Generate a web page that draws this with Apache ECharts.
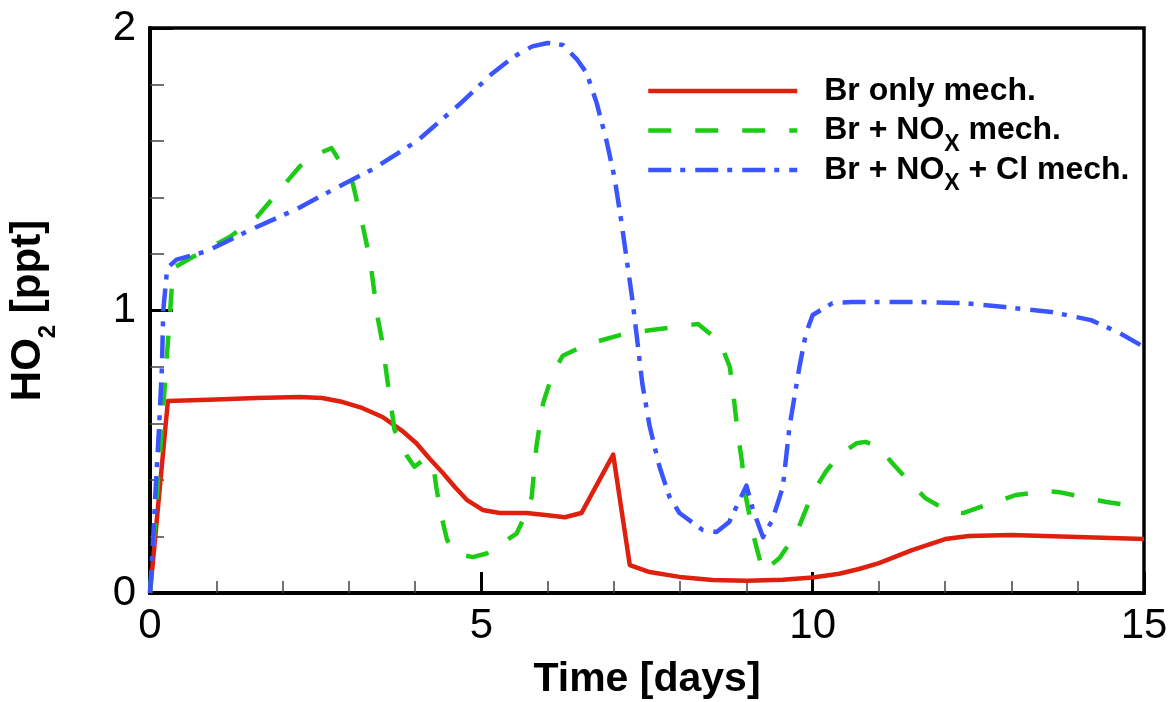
<!DOCTYPE html>
<html>
<head>
<meta charset="utf-8">
<script src="https://cdn.jsdelivr.net/npm/echarts@6/dist/echarts.min.js"></script>
<style>
  html, body { margin: 0; padding: 0; background: #ffffff; }
  #chart { width: 1171px; height: 702px; }
</style>
</head>
<body>
<div id="chart"></div>
<script>
// HO2 mixing ratio [ppt] versus time [days] for three mechanism variants
const FONT = "'Liberation Sans', Arial, Helvetica, sans-serif";

const seriesNames = ['Br only mech.', 'Br + NOx mech.', 'Br + NOx + Cl mech.'];

// [time (days), HO2 (ppt)]
const brOnly = [
  [0, 0], [0.27, 0.68], [1.0, 0.685], [1.6, 0.69], [2.26, 0.694], [2.6, 0.69],
  [2.91, 0.676], [3.2, 0.655], [3.51, 0.623], [3.8, 0.575], [4.02, 0.53],
  [4.22, 0.475], [4.42, 0.425], [4.6, 0.375], [4.78, 0.33], [5.02, 0.294],
  [5.28, 0.283], [5.68, 0.283], [6.0, 0.275], [6.26, 0.268], [6.51, 0.283],
  [6.99, 0.49], [7.24, 0.099], [7.54, 0.074], [7.99, 0.057], [8.49, 0.046],
  [9.0, 0.043], [9.55, 0.047], [10.0, 0.055], [10.4, 0.068], [10.7, 0.085],
  [11.0, 0.106], [11.5, 0.152], [12.0, 0.191], [12.36, 0.202], [13.0, 0.205],
  [14.0, 0.198], [15.0, 0.191]
];

const brNox = [
  [0, 0], [0.35, 1.15], [0.65, 1.19], [1.2, 1.26], [1.61, 1.33], [2.06, 1.455],
  [2.26, 1.51], [2.59, 1.56], [2.74, 1.575], [2.83, 1.54], [3.06, 1.45],
  [3.21, 1.30], [3.32, 1.18], [3.44, 0.97], [3.5, 0.895], [3.59, 0.74],
  [3.69, 0.577], [3.87, 0.488], [3.99, 0.447], [4.12, 0.47], [4.27, 0.46],
  [4.32, 0.375], [4.4, 0.27], [4.48, 0.19], [4.6, 0.14], [4.87, 0.127],
  [5.08, 0.14], [5.53, 0.21], [5.68, 0.283], [5.76, 0.34], [5.83, 0.517],
  [5.93, 0.67], [6.08, 0.78], [6.23, 0.84], [6.59, 0.88], [7.09, 0.913],
  [7.54, 0.93], [8.19, 0.95], [8.27, 0.952], [8.6, 0.89], [8.75, 0.80],
  [8.8, 0.71], [8.87, 0.566], [8.93, 0.47], [9.0, 0.33], [9.1, 0.21],
  [9.15, 0.164], [9.25, 0.075], [9.5, 0.124], [9.75, 0.21], [10.0, 0.354],
  [10.2, 0.43], [10.4, 0.488], [10.66, 0.53], [10.8, 0.535], [11.0, 0.517],
  [11.2, 0.46], [11.46, 0.393], [11.7, 0.336], [12.06, 0.287], [12.27, 0.283],
  [12.7, 0.318], [13.07, 0.347], [13.52, 0.361], [13.72, 0.357], [14.43, 0.322],
  [15.0, 0.304]
];

const brNoxCl = [
  [0, 0], [0.05, 0.2], [0.09, 0.39], [0.14, 0.6], [0.18, 0.8], [0.2, 1.0],
  [0.26, 1.15], [0.4, 1.18], [0.86, 1.21], [1.51, 1.285], [2.22, 1.36],
  [2.86, 1.44], [3.36, 1.50], [4.03, 1.60], [4.67, 1.73], [5.17, 1.84],
  [5.5, 1.9], [5.77, 1.935], [6.0, 1.947], [6.23, 1.94], [6.45, 1.887],
  [6.59, 1.84], [6.74, 1.735], [6.89, 1.60], [7.01, 1.47], [7.11, 1.32],
  [7.2, 1.17], [7.28, 1.037], [7.34, 0.92], [7.43, 0.74], [7.54, 0.59],
  [7.69, 0.446], [7.84, 0.34], [7.99, 0.283], [8.34, 0.223], [8.55, 0.216],
  [8.74, 0.251], [9.0, 0.38], [9.1, 0.294], [9.25, 0.198], [9.39, 0.258],
  [9.55, 0.375], [9.65, 0.588], [9.8, 0.80], [9.9, 0.92], [10.0, 0.984],
  [10.3, 1.026], [10.6, 1.03], [11.6, 1.03], [12.3, 1.026], [12.9, 1.012],
  [13.6, 0.995], [14.2, 0.966], [14.6, 0.924], [15.0, 0.871]
];

const xRange = [0, 15];
const yRange = [0, 2];

const colors = ['#e0200e', '#1ccc14', '#3a55ff'];
const dashes = ['solid', [23, 24], [23, 9, 5, 10]];
const seriesData = [brOnly, brNox, brNoxCl];

// legend label: "NOx" written as NO with subscript X
function legendLabel(name) {
  return '{b|' + name.split('NOx').join('NO}{s|X}{b|') + '}';
}

// one legend block per entry so every row keeps the same pitch
const legendRowTop = [75, 114.5, 154];
const legends = seriesNames.map((name, i) => ({
  orient: 'vertical',
  left: 646,
  top: legendRowTop[i],
  padding: 0,
  itemWidth: 149,
  itemHeight: 1,
  selectedMode: false,
  itemStyle: { opacity: 0 },
  lineStyle: { width: 4.5 },
  formatter: legendLabel,
  textStyle: {
    padding: [0, 0, 0, 22],
    rich: {
      b: { fontFamily: FONT, fontSize: 32, fontWeight: 'bold', color: '#000', lineHeight: 30 },
      s: { fontFamily: FONT, fontSize: 23, fontWeight: 'bold', color: '#000', lineHeight: 30, height: 2, verticalAlign: 'bottom' }
    }
  },
  data: [name]
}));

const chart = echarts.init(document.getElementById('chart'), null, { renderer: 'canvas' });

chart.setOption({
  animation: false,
  backgroundColor: '#ffffff',
  textStyle: { fontFamily: FONT },
  grid: {
    left: 150, right: 27, top: 28, bottom: 109,
    containLabel: false,
    outerBoundsMode: 'none',
    show: true, borderColor: '#000', borderWidth: 3.5, backgroundColor: 'transparent'
  },
  legend: legends,
  xAxis: {
    type: 'value',
    min: xRange[0], max: xRange[1], interval: 5,
    name: 'Time [days]',
    nameLocation: 'middle',
    nameGap: 66,
    nameTextStyle: { fontFamily: FONT, fontSize: 41, fontWeight: 'bold', color: '#000' },
    axisLine: { show: true, lineStyle: { color: '#000', width: 4 } },
    axisTick: { show: true, inside: true, length: 21, lineStyle: { color: '#000', width: 3 } },
    minorTick: { show: true, splitNumber: 5, length: 12, lineStyle: { color: '#444', width: 1.5 } },
    axisLabel: { fontFamily: FONT, fontSize: 42, color: '#000', margin: 12 },
    splitLine: { show: false }
  },
  yAxis: {
    type: 'value',
    min: yRange[0], max: yRange[1], interval: 1,
    name: '{b|HO}{s|2}{b| [ppt]}',
    nameLocation: 'middle',
    nameGap: 101,
    nameTextStyle: {
      rich: {
        b: { fontFamily: FONT, fontSize: 42, fontWeight: 'bold', color: '#000', lineHeight: 42 },
        s: { fontFamily: FONT, fontSize: 24, fontWeight: 'bold', color: '#000', lineHeight: 42, height: 2, verticalAlign: 'bottom' }
      }
    },
    axisLine: { show: true, lineStyle: { color: '#000', width: 4 } },
    axisTick: { show: true, inside: true, length: 23, lineStyle: { color: '#000', width: 3 } },
    minorTick: { show: true, splitNumber: 5, length: 14, lineStyle: { color: '#444', width: 1.5 } },
    axisLabel: { fontFamily: FONT, fontSize: 42, color: '#000', margin: 14 },
    splitLine: { show: false }
  },
  series: seriesNames.map((name, i) => ({
    name: name,
    type: 'line',
    data: seriesData[i],
    symbol: 'none',
    showSymbol: false,
    smooth: false,
    clip: true,
    z: 2 + i,
    lineStyle: { color: colors[i], width: 4.5, type: dashes[i], cap: 'butt', join: 'round' },
    itemStyle: { color: colors[i] }
  }))
});
</script>
</body>
</html>
